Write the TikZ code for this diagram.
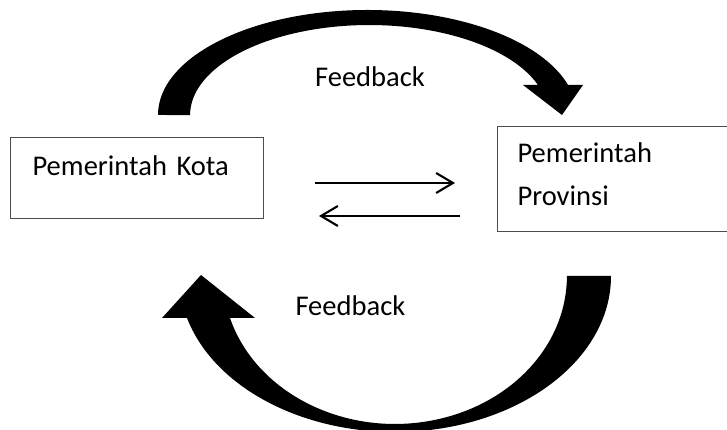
\documentclass[tikz,border=0pt]{standalone}
\usepackage{fontspec}
\setmainfont{Carlito}
\usepackage{tikz}
\usetikzlibrary{arrows.meta, positioning}

\begin{document}
\begin{tikzpicture}[
  font=\fontsize{20.3pt}{30.6pt}\selectfont,
  box/.style={
    draw=black!70,
    line width=0.8pt,
    align=left,
    anchor=north west,
    inner ysep=0pt
  },
  arrow/.style={
    draw=black,
    -{Straight Barb[length=0.42cm, width=0.5cm]},
    line width=1.5pt
  },
  bigarrow/.style={
    fill=black,
    draw=none
  }
]

\useasboundingbox (0,0) rectangle (18.175,10.75);

% Boxes
\node[box, inner xsep=0.55cm, text width=5.225cm, text height=0.95cm, text depth=1.075cm] (kota) at (0.25,7.325)
{Pemerintah Kota};

\node[box, inner xsep=0.5cm, text width=5.5cm, text height=0.9cm, text depth=1.725cm] (provinsi) at (12.425,7.6)
{Pemerintah\\Provinsi};

% Arrows between the boxes
\coordinate (kr1) at (7.875,6.175);
\coordinate (kr2) at (11.375,6.175);
\coordinate (pr1) at (11.5,5.35);
\coordinate (pr2) at (7.975,5.35);

\draw[arrow] (kr1) -- (kr2);
\draw[arrow] (pr1) -- (pr2);

% Upper feedback arrow
\fill[bigarrow] (3.95,7.875)
  arc[start angle=180, end angle=16.6, x radius=5.235, y radius=2.625]
  -- (14.575,8.625) -- (14.05,7.875) -- (13.075,8.625) -- (13.45,8.625)
  arc[start angle=19.5, end angle=180, x radius=4.4775, y radius=2.25]
  -- cycle;

\node[anchor=base] (fbtop) at (9.25,8.575) {Feedback};

% Lower feedback arrow
\fill[bigarrow] (15.275,3.85)
  arc[start angle=0, end angle=-164.4, x radius=5.4, y radius=3.9]
  -- (4.05,2.8) -- (5.025,3.875) -- (6.375,2.8) -- (5.75,2.8)
  arc[start angle=-163.5, end angle=0, x radius=4.3, y radius=3.7]
  -- cycle;

\node[anchor=base] (fbbottom) at (8.76,2.85) {Feedback};

\end{tikzpicture}
\end{document}
